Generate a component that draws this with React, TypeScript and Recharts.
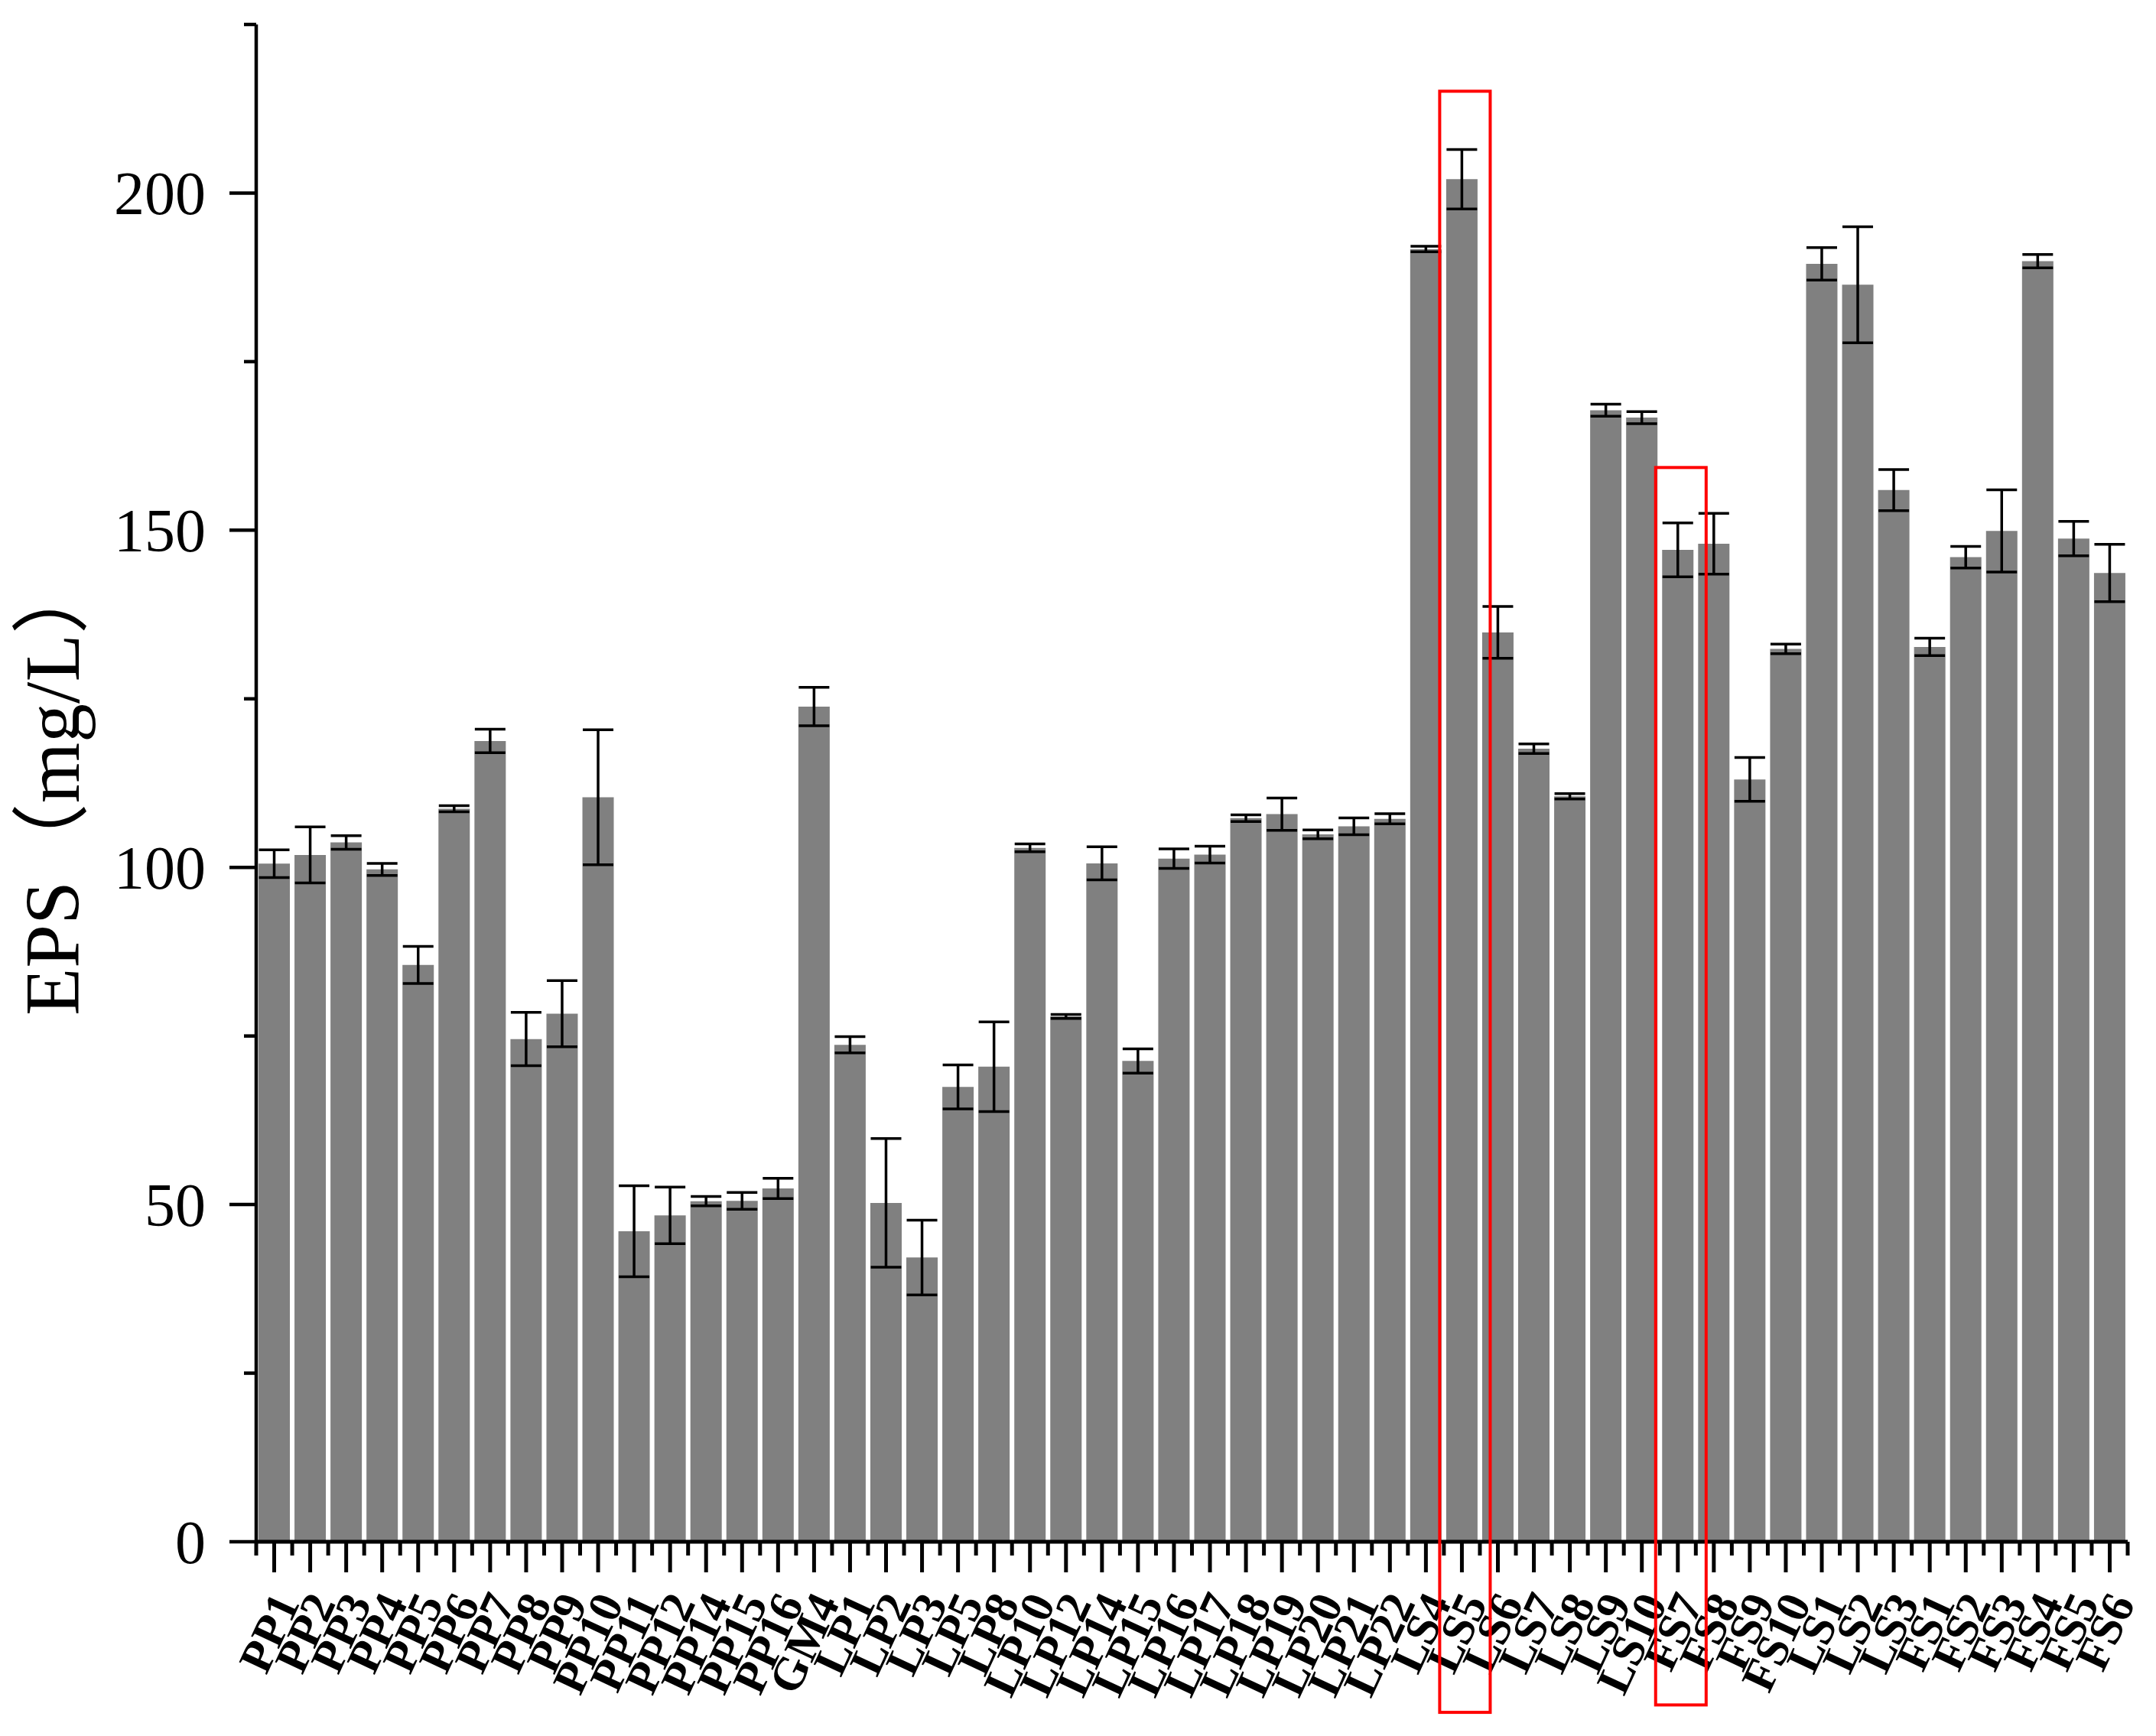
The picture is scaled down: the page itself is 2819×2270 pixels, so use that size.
import React from 'react';
import { BarChart, Bar, XAxis, YAxis, ErrorBar, ReferenceArea } from 'recharts';

const categories = [
  'PP1', 'PP2', 'PP3', 'PP4', 'PP5', 'PP6', 'PP7', 'PP8', 'PP9', 'PP10', 'PP11', 'PP12', 'PP14', 'PP15', 'PP16',
  'GM4',
  'LP1', 'LP2', 'LP3', 'LP5', 'LP8', 'LP10', 'LP12', 'LP14', 'LP15', 'LP16', 'LP17', 'LP18', 'LP19', 'LP20', 'LP21', 'LP22',
  'LS4', 'LS5', 'LS6', 'LS7', 'LS8', 'LS9', 'LS10',
  'FS7', 'FS8', 'FS9', 'FS10',
  'LS1', 'LS2', 'LS3',
  'FS1', 'FS2', 'FS3', 'FS4', 'FS5', 'FS6',
];

const epsValues = [
  100.55, 101.85, 103.7, 99.7, 85.55, 108.7, 118.75, 74.55, 78.3, 110.4, 46.05, 48.4, 50.5, 50.55, 52.4,
  123.85,
  73.7, 50.25, 42.15, 67.45, 70.45, 102.9, 77.9, 100.6, 71.3, 101.3, 101.9, 107.3, 107.9, 104.9, 106.1, 107.2,
  191.7, 202.05, 134.85, 117.6, 110.55, 167.8, 166.7,
  147.1, 148.0, 113.05, 132.4,
  189.5, 186.4, 155.95,
  132.7, 146.0, 149.9, 189.9, 148.75, 143.65,
];

const epsErrors = [
  2.05, 4.15, 1.0, 0.9, 2.75, 0.45, 1.75, 3.95, 4.9, 10.0, 6.75, 4.2, 0.7, 1.25, 1.5,
  2.85,
  1.2, 9.55, 5.55, 3.25, 6.65, 0.57, 0.3, 2.45, 1.8, 1.45, 1.25, 0.5, 2.4, 0.65, 1.25, 0.75,
  0.4, 4.4, 3.85, 0.7, 0.4, 0.9, 0.9,
  4.0, 4.5, 3.25, 0.7,
  2.4, 8.6, 3.05,
  1.3, 1.6, 6.1, 1.0, 2.55, 4.25,
];

const yTicks = [0, 25, 50, 75, 100, 125, 150, 175, 200, 225];
const yMajorStep = 50;

const highlights = [
  { category: 'LS5', top: 215.1, bottom: -25.3 },
  { category: 'FS7', top: 159.3, bottom: -24.2 },
];

const CHART_W = 2819;
const CHART_H = 2270;
const Y_AXIS_W = 335;
const X_AXIS_H = 254;
const MARGIN_TOP = 32;
const MARGIN_RIGHT = 37;
const AXIS_Y = CHART_H - X_AXIS_H;
const PLOT_W = CHART_W - Y_AXIS_W - MARGIN_RIGHT;
const STEP = PLOT_W / categories.length;

const SERIF = "'Liberation Serif', 'Times New Roman', 'Noto Sans CJK SC', serif";

const data = categories.map((name, i) => ({ name, eps: epsValues[i], err: epsErrors[i] }));

function XTick(props: any) {
  const { x, payload, index } = props;
  const tx = x + 34;
  const ty = AXIS_Y + 80;
  return (
    <g>
      <line x1={x} y1={AXIS_Y} x2={x} y2={AXIS_Y + 40} stroke="#000" strokeWidth={5} />
      <line x1={x - STEP / 2} y1={AXIS_Y} x2={x - STEP / 2} y2={AXIS_Y + 18} stroke="#000" strokeWidth={5} />
      {index === categories.length - 1 && (
        <line x1={x + STEP / 2} y1={AXIS_Y} x2={x + STEP / 2} y2={AXIS_Y + 18} stroke="#000" strokeWidth={5} />
      )}
      <text
        x={tx}
        y={ty}
        textAnchor="end"
        transform={`rotate(-65 ${tx} ${ty})`}
        fontFamily={SERIF}
        fontWeight="bold"
        fontSize={61}
        fill="#000"
      >
        {payload.value}
      </text>
    </g>
  );
}

function YTick(props: any) {
  const { y, payload } = props;
  const major = payload.value % yMajorStep === 0;
  return (
    <g>
      <line x1={Y_AXIS_W} y1={y} x2={Y_AXIS_W - (major ? 35 : 16)} y2={y} stroke="#000" strokeWidth={4.5} />
      {major && (
        <text x={269} y={y} dy="0.35em" textAnchor="end" fontFamily={SERIF} fontSize={80} fill="#000">
          {payload.value}
        </text>
      )}
    </g>
  );
}

function YLabel() {
  const x = 103;
  const y = 1328;
  return (
    <text
      x={x}
      y={y}
      textAnchor="start"
      transform={`rotate(-90 ${x} ${y})`}
      fontFamily={SERIF}
      fontSize={102}
      fill="#000"
    >
      EPS（mg/L）
    </text>
  );
}

function HighlightBox(p: any) {
  return (
    <rect
      x={p.x - 5.5}
      y={p.y}
      width={p.width + 19}
      height={p.height}
      fill="none"
      stroke="#ff0000"
      strokeWidth={4}
    />
  );
}

export default function App() {
  return (
    <div style={{ position: 'absolute', left: 0, top: 0, width: CHART_W, height: CHART_H, background: '#fff' }}>
      <div style={{ position: 'absolute', left: 0, top: 0 }}>
        <BarChart
          width={CHART_W}
          height={CHART_H}
          data={data}
          margin={{ top: MARGIN_TOP, right: MARGIN_RIGHT, bottom: 0, left: 0 }}
        >
          <XAxis
            dataKey="name"
            interval={0}
            height={X_AXIS_H}
            tickLine={false}
            axisLine={{ stroke: '#000', strokeWidth: 5 }}
            tick={(p: any) => <XTick {...p} />}
          />
          <YAxis
            type="number"
            domain={[0, 225]}
            ticks={yTicks}
            interval={0}
            width={Y_AXIS_W}
            tickLine={false}
            axisLine={{ stroke: '#000', strokeWidth: 4.5 }}
            tick={(p: any) => <YTick {...p} />}
            label={{ content: () => <YLabel /> }}
          />
          <Bar dataKey="eps" fill="#808080" barSize={41} isAnimationActive={false}>
            <ErrorBar dataKey="err" width={20} stroke="#000" strokeWidth={3.5} direction="y" isAnimationActive={false} />
          </Bar>
        </BarChart>
      </div>
      <div style={{ position: 'absolute', left: 0, top: 0, pointerEvents: 'none' }}>
        <BarChart
          width={CHART_W}
          height={CHART_H}
          data={data}
          margin={{ top: MARGIN_TOP, right: MARGIN_RIGHT, bottom: X_AXIS_H, left: Y_AXIS_W }}
        >
          <XAxis dataKey="name" hide />
          <YAxis type="number" domain={[0, 225]} hide />
          <Bar dataKey="eps" fill="none" fillOpacity={0} barSize={41} isAnimationActive={false} />
          {highlights.map((h) => (
            <ReferenceArea
              key={h.category}
              x1={h.category}
              x2={h.category}
              y1={h.bottom}
              y2={h.top}
              ifOverflow="visible"
              shape={(p: any) => <HighlightBox {...p} />}
            />
          ))}
        </BarChart>
      </div>
    </div>
  );
}
